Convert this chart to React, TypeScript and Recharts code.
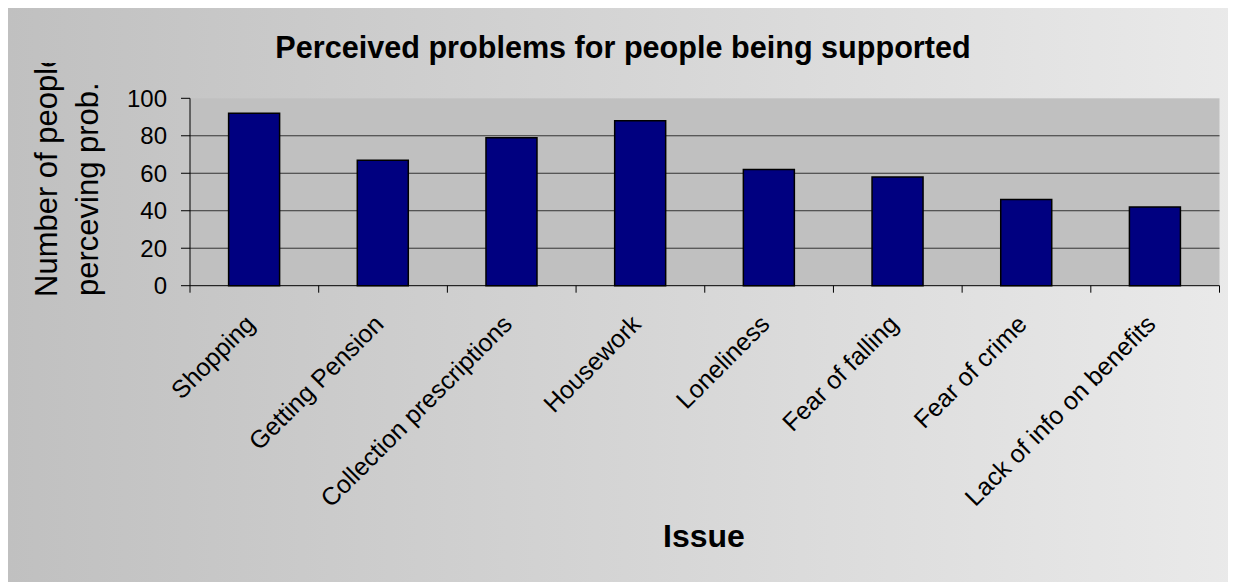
import React from 'react';
import { BarChart, Bar, XAxis, YAxis, CartesianGrid, Customized } from 'recharts';

const issues = [
  'Shopping',
  'Getting Pension',
  'Collection prescriptions',
  'Housework',
  'Loneliness',
  'Fear of falling',
  'Fear of crime',
  'Lack of info on benefits',
];
const counts = [92, 67, 79, 88, 62, 58, 46, 42];
const yTicks = [0, 20, 40, 60, 80, 100];
const gridValues = [20, 40, 60, 80];

const chartTitle = 'Perceived problems for people being supported';
const yTitleLines = ['Number of people', 'perceving prob.'];
const xTitle = 'Issue';

const data = issues.map((issue, i) => ({ issue, count: counts[i] }));

const W = 1236;
const H = 582;
const MARGIN = { top: 98.3, right: 16.5, left: 0, bottom: 196.3 };
const Y_AXIS_W = 190;
const X_AXIS_H = 100;
const PLOT_W = W - MARGIN.left - MARGIN.right - Y_AXIS_W;
const BAND = PLOT_W / issues.length;
const FONT = 'Arial, "Liberation Sans", sans-serif';

function IssueTick(props: any) {
  const { x, y, payload } = props;
  const idx = issues.indexOf(payload.value);
  const half = BAND / 2;
  const tx = x + 2;
  const ty = y + 40;
  return (
    <g>
      <line x1={x - half} x2={x - half} y1={y} y2={y + 7} stroke="#000" strokeWidth={1} />
      {idx === issues.length - 1 && (
        <line x1={x + half} x2={x + half} y1={y} y2={y + 7} stroke="#000" strokeWidth={1} />
      )}
      <text
        x={tx}
        y={ty}
        transform={`rotate(-45 ${tx} ${ty})`}
        textAnchor="end"
        fontSize={25}
        fontFamily={FONT}
        fill="#000"
      >
        {payload.value}
      </text>
    </g>
  );
}

function TextLayer() {
  return (
    <g>
      <defs>
        <clipPath id="yTitleClip">
          <rect x={0} y={63} width={130} height={300} />
        </clipPath>
      </defs>
      <text
        x={623}
        y={58}
        textAnchor="middle"
        fontSize={30.6}
        fontWeight="bold"
        fontFamily={FONT}
        fill="#000"
      >
        {chartTitle}
      </text>
      <g clipPath="url(#yTitleClip)">
        <text x={57} y={297} transform="rotate(-90 57 297)" fontSize={31} fontFamily={FONT} fill="#000">
          {yTitleLines[0]}
        </text>
      </g>
      <text x={98} y={296} transform="rotate(-90 98 296)" fontSize={31} fontFamily={FONT} fill="#000">
        {yTitleLines[1]}
      </text>
      <text
        x={704}
        y={547}
        textAnchor="middle"
        fontSize={32}
        fontWeight="bold"
        fontFamily={FONT}
        fill="#000"
      >
        {xTitle}
      </text>
    </g>
  );
}

export default function App() {
  return (
    <div
      style={{
        position: 'relative',
        width: W,
        height: H,
        margin: '-8px 0 0 -8px',
        overflow: 'hidden',
      }}
    >
      <div
        style={{
          position: 'absolute',
          left: 5,
          top: 4,
          width: W + 20,
          height: H + 20,
          boxSizing: 'border-box',
          border: '2px solid #000',
          background: 'linear-gradient(to right, #c0c0c0 0px, #eaeaea 1236px)',
        }}
      />
      <div style={{ position: 'absolute', left: 0, top: 0 }}>
        <BarChart
          width={W}
          height={H}
          data={data}
          margin={MARGIN}
          barCategoryGap="30%"
        >
          <CartesianGrid
            fill="#c0c0c0"
            fillOpacity={1}
            vertical={false}
            horizontalValues={gridValues}
            stroke="#333"
            strokeWidth={1}
          />
          <XAxis
            dataKey="issue"
            height={X_AXIS_H}
            interval={0}
            tickLine={false}
            tickSize={0}
            tickMargin={0}
            axisLine={{ stroke: '#000', strokeWidth: 1 }}
            tick={<IssueTick />}
          />
          <XAxis
            xAxisId="top"
            orientation="top"
            dataKey="issue"
            height={0}
            tick={false}
            tickLine={false}
            axisLine={{ stroke: '#808080', strokeWidth: 1.5 }}
          />
          <YAxis
            width={Y_AXIS_W}
            domain={[0, 100]}
            ticks={yTicks}
            interval={0}
            tickSize={9}
            tickMargin={14}
            tickLine={{ stroke: '#000' }}
            axisLine={{ stroke: '#000', strokeWidth: 1 }}
            tick={{ fontSize: 24, fill: '#000', fontFamily: FONT }}
          />
          <YAxis
            yAxisId="right"
            orientation="right"
            width={0}
            domain={[0, 100]}
            tick={false}
            tickLine={false}
            axisLine={{ stroke: '#808080', strokeWidth: 1.5 }}
          />
          <Bar
            dataKey="count"
            fill="#000080"
            stroke="#000"
            strokeWidth={1.5}
            isAnimationActive={false}
          />
          <Customized component={TextLayer} />
        </BarChart>
      </div>
    </div>
  );
}
